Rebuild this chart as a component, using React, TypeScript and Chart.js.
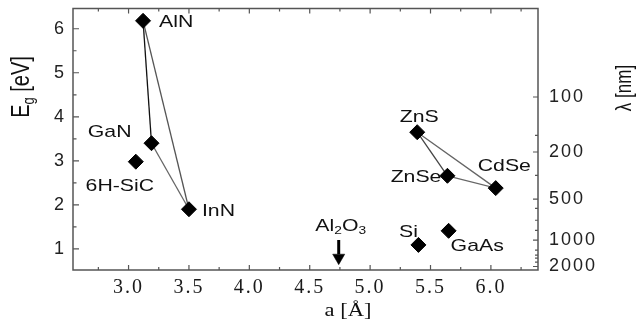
import React, { useEffect, useRef } from 'react';
import { Chart, registerables } from 'chart.js';

Chart.register(...registerables);

// ---- data ----
const compounds = ['AlN', 'GaN', '6H-SiC', 'InN', 'ZnS', 'ZnSe', 'CdSe', 'Si', 'GaAs'];
const latticeConstant = [3.12, 3.19, 3.06, 3.5, 5.39, 5.64, 6.04, 5.4, 5.65];
const bandGap = [6.18, 3.4, 2.98, 1.9, 3.65, 2.66, 2.38, 1.09, 1.41];
const nitrideLoop = ['AlN', 'GaN', 'InN', 'AlN'];
const selenideLoop = ['ZnS', 'ZnSe', 'CdSe', 'ZnS'];
const nitrideSegmentColors = ['#111111', '#666666', '#555555'];
const selenideSegmentColors = ['#444444', '#666666', '#666666'];

const substrateLattice = 4.74; // Al2O3 arrow
const substrateArrowTop = 1.2;
const substrateArrowShaftEnd = 0.88;
const substrateArrowHead = 0.8;

const xMajorTicks = [3.0, 3.5, 4.0, 4.5, 5.0, 5.5, 6.0];
const xMinorTicks = [2.75, 3.25, 3.75, 4.25, 4.75, 5.25, 5.75, 6.25];
const yMajorTicks = [1, 2, 3, 4, 5, 6];
const yMinorTicks = [1.5, 2.5, 3.5, 4.5, 5.5];
const wavelengthLabels = ['100', '200', '500', '1000', '2000'];
const wavelengthTickEg = [4.45, 3.2, 2.13, 1.2, 0.6];
const wavelengthMinorEg = [3.58, 2.67, 1.92, 1.65, 1.42, 0.97, 0.86, 0.79, 0.7];

const X_MIN = 2.54;
const X_MAX = 6.39;
const Y_MIN = 0.52;
const Y_MAX = 6.46;

// ---- label styling (pixel offsets from the marker) ----
const labelPlacement: Record<string, { dx: number; dy: number; align: CanvasTextAlign }> = {
  'AlN': { dx: 16, dy: 1, align: 'left' },
  'GaN': { dx: -20, dy: -11, align: 'right' },
  '6H-SiC': { dx: -16, dy: 25, align: 'center' },
  'InN': { dx: 13, dy: 2, align: 'left' },
  'ZnS': { dx: 2, dy: -15, align: 'center' },
  'ZnSe': { dx: -6, dy: 2, align: 'right' },
  'CdSe': { dx: -18, dy: -22, align: 'left' },
  'Si': { dx: -10, dy: -13, align: 'center' },
  'GaAs': { dx: 2, dy: 15, align: 'left' },
};
const STRETCH = 1.25;
const SANS = '"Liberation Sans", Arial, sans-serif';
const SERIF = '"Liberation Serif", "Times New Roman", serif';

function idx(name: string) {
  return compounds.indexOf(name);
}

function drawRuns(
  ctx: CanvasRenderingContext2D,
  runs: { t: string; size: number; dy: number }[],
  align: 'left' | 'center' | 'right'
) {
  let total = 0;
  const widths = runs.map((r) => {
    ctx.font = `${r.size}px ${SANS}`;
    const w = ctx.measureText(r.t).width;
    total += w;
    return w;
  });
  let x = align === 'left' ? 0 : align === 'center' ? -total / 2 : -total;
  ctx.textAlign = 'left';
  ctx.textBaseline = 'middle';
  runs.forEach((r, i) => {
    ctx.font = `${r.size}px ${SANS}`;
    ctx.fillText(r.t, x, r.dy);
    x += widths[i];
  });
}

const decorPlugin = {
  id: 'decor',
  beforeDraw(chart: any) {
    (chart.ctx as any).letterSpacing = '2px';
  },
  beforeDatasetsDraw(chart: any) {
    const ctx: CanvasRenderingContext2D = chart.ctx;
    (ctx as any).letterSpacing = '0px';
    const { left, right, top, bottom } = chart.chartArea;
    ctx.save();
    ctx.strokeStyle = '#555';
    ctx.lineWidth = 1.5;
    ctx.strokeRect(left, top, right - left, bottom - top);
    ctx.lineWidth = 1.2;
    ctx.strokeStyle = '#555';
    ctx.beginPath();
    const xs = chart.scales.x;
    xs.ticks.forEach((t: any) => {
      const px = xs.getPixelForValue(t.value);
      const len = xMajorTicks.includes(t.value) ? 5 : 3;
      ctx.moveTo(px, bottom);
      ctx.lineTo(px, bottom - len);
      ctx.moveTo(px, top);
      ctx.lineTo(px, top + len);
    });
    const ys = chart.scales.y;
    ys.ticks.forEach((t: any) => {
      const py = ys.getPixelForValue(t.value);
      const len = yMajorTicks.includes(t.value) ? 6 : 3.5;
      ctx.moveTo(left, py);
      ctx.lineTo(left + len, py);
    });
    const y2 = chart.scales.y2;
    y2.ticks.forEach((t: any) => {
      const py = y2.getPixelForValue(t.value);
      const len = wavelengthTickEg.includes(t.value) ? 5 : 3;
      ctx.moveTo(right, py);
      ctx.lineTo(right - len, py);
    });
    ctx.stroke();
    ctx.restore();
  },
  afterDatasetsDraw(chart: any) {
    const ctx: CanvasRenderingContext2D = chart.ctx;
    const xs = chart.scales.x;
    const ys = chart.scales.y;
    ctx.save();
    ctx.fillStyle = '#111';
    // point labels
    compounds.forEach((name, i) => {
      const p = labelPlacement[name];
      const px = xs.getPixelForValue(latticeConstant[i]);
      const py = ys.getPixelForValue(bandGap[i]);
      ctx.save();
      ctx.translate(px + p.dx, py + p.dy);
      ctx.scale(STRETCH, 1);
      drawRuns(ctx, [{ t: name, size: 17, dy: 0 }], p.align as any);
      ctx.restore();
    });
    // Al2O3 label
    {
      const px = xs.getPixelForValue(substrateLattice);
      const py = ys.getPixelForValue(substrateArrowTop);
      ctx.save();
      ctx.translate(px + 2, py - 14);
      ctx.scale(STRETCH, 1);
      drawRuns(
        ctx,
        [
          { t: 'Al', size: 17, dy: 0 },
          { t: '2', size: 11, dy: 5 },
          { t: 'O', size: 17, dy: 0 },
          { t: '3', size: 11, dy: 5 },
        ],
        'center'
      );
      ctx.restore();
    }
    // left axis title E_g [eV]
    ctx.save();
    ctx.translate(22, 87);
    ctx.scale(1.28, 1);
    ctx.rotate(-Math.PI / 2);
    drawRuns(
      ctx,
      [
        { t: 'E', size: 20, dy: 0 },
        { t: 'g', size: 13, dy: 6 },
        { t: ' [eV]', size: 20, dy: 0 },
      ],
      'center'
    );
    ctx.restore();
    // right axis title
    ctx.save();
    ctx.translate(625, 88);
    ctx.scale(1.28, 1);
    ctx.rotate(-Math.PI / 2);
    drawRuns(ctx, [{ t: 'λ [nm]', size: 17, dy: 0 }], 'center');
    ctx.restore();
    // bottom axis title
    ctx.save();
    ctx.translate(348, 311);
    ctx.scale(STRETCH, 1);
    ctx.font = `18px ${SERIF}`;
    ctx.textAlign = 'center';
    ctx.textBaseline = 'middle';
    ctx.fillText('a [Å]', 0, 0);
    ctx.restore();
    ctx.restore();
  },
};

export default function App() {
  const canvasRef = useRef<HTMLCanvasElement | null>(null);

  useEffect(() => {
    if (!canvasRef.current) return;
    const points = compounds.map((_, i) => ({ x: latticeConstant[i], y: bandGap[i] }));
    const loop = (names: string[]) =>
      names.map((n) => ({ x: latticeConstant[idx(n)], y: bandGap[idx(n)] }));

    const chart = new Chart(canvasRef.current, {
      type: 'scatter',
      data: {
        datasets: [
          {
            label: 'compounds',
            data: points,
            pointStyle: 'rectRot',
            pointRadius: 7.5,
            pointBackgroundColor: '#000',
            pointBorderColor: '#000',
            pointBorderWidth: 1,
            showLine: false,
          },
          {
            label: 'arrow head',
            data: [{ x: substrateLattice, y: substrateArrowHead }],
            pointStyle: 'triangle',
            rotation: 180,
            pointRadius: 7,
            pointBackgroundColor: '#000',
            pointBorderColor: '#000',
            pointBorderWidth: 0.5,
            showLine: false,
          },
          {
            label: 'arrow shaft',
            data: [
              { x: substrateLattice, y: substrateArrowTop },
              { x: substrateLattice, y: substrateArrowShaftEnd },
            ],
            showLine: true,
            borderColor: '#000',
            borderWidth: 3,
            pointRadius: 0,
          },
          {
            label: 'nitrides',
            data: loop(nitrideLoop),
            showLine: true,
            borderColor: '#555',
            borderWidth: 1.3,
            pointRadius: 0,
            segment: { borderColor: (c: any) => nitrideSegmentColors[c.p0DataIndex] },
          } as any,
          {
            label: 'selenides',
            data: loop(selenideLoop),
            showLine: true,
            borderColor: '#555',
            borderWidth: 1.3,
            pointRadius: 0,
            segment: { borderColor: (c: any) => selenideSegmentColors[c.p0DataIndex] },
          } as any,
        ],
      },
      options: {
        responsive: false,
        animation: false,
        layout: { padding: { top: 8, left: 0, right: 0, bottom: 0 } },
        plugins: { legend: { display: false }, tooltip: { enabled: false } },
        scales: {
          x: {
            type: 'linear',
            position: 'bottom',
            min: X_MIN,
            max: X_MAX,
            grid: { display: false, drawTicks: false },
            border: { display: false },
            afterBuildTicks: (axis: any) => {
              axis.ticks = [...xMajorTicks, ...xMinorTicks]
                .sort((a, b) => a - b)
                .map((v) => ({ value: v }));
            },
            afterFit: (s: any) => {
              s.height = 52;
              s.paddingLeft = 0;
              s.paddingRight = 0;
            },
            ticks: {
              autoSkip: false,
              maxRotation: 0,
              padding: 6,
              color: '#1a1a1a',
              font: { family: SERIF, size: 20 },
              callback: (v: any) => (xMajorTicks.includes(v) ? Number(v).toFixed(1) : ''),
            },
          },
          y: {
            type: 'linear',
            position: 'left',
            min: Y_MIN,
            max: Y_MAX,
            grid: { display: false, drawTicks: false },
            border: { display: false },
            afterBuildTicks: (axis: any) => {
              axis.ticks = [...yMajorTicks, ...yMinorTicks]
                .sort((a, b) => a - b)
                .map((v) => ({ value: v }));
            },
            afterFit: (s: any) => {
              s.width = 73;
              s.paddingTop = 0;
              s.paddingBottom = 0;
            },
            ticks: {
              autoSkip: false,
              padding: 7,
              color: '#222',
              font: { family: SANS, size: 18 },
              callback: (v: any) => (yMajorTicks.includes(v) ? String(v) : ''),
            },
          },
          y2: {
            type: 'linear',
            position: 'right',
            min: Y_MIN,
            max: Y_MAX,
            grid: { display: false, drawTicks: false },
            border: { display: false },
            afterBuildTicks: (axis: any) => {
              axis.ticks = [...wavelengthTickEg, ...wavelengthMinorEg]
                .sort((a, b) => a - b)
                .map((v) => ({ value: v }));
            },
            afterFit: (s: any) => {
              s.width = 98;
              s.paddingTop = 0;
              s.paddingBottom = 0;
            },
            ticks: {
              autoSkip: false,
              padding: 11,
              color: '#222',
              font: { family: SANS, size: 18 },
              callback: (v: any) => {
                const k = wavelengthTickEg.indexOf(v);
                return k >= 0 ? wavelengthLabels[k] : '';
              },
            },
          },
        },
      },
      plugins: [decorPlugin],
    } as any);

    return () => chart.destroy();
  }, []);

  return (
    <div style={{ position: 'fixed', left: 0, top: 0, width: 636, height: 322, background: '#fff' }}>
      <canvas ref={canvasRef} width={636} height={322} />
    </div>
  );
}
